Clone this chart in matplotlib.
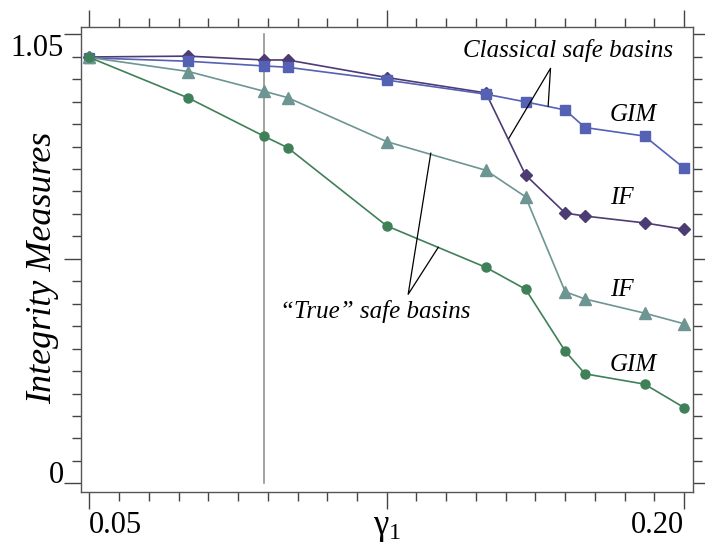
import numpy as np
import matplotlib
matplotlib.use('Agg')
import matplotlib.pyplot as plt
from matplotlib.ticker import FixedLocator

plt.rcParams['font.family'] = ['Liberation Serif', 'DejaVu Serif']
plt.rcParams['mathtext.fontset'] = 'custom'
plt.rcParams['mathtext.rm'] = 'Liberation Serif'
plt.rcParams['mathtext.it'] = 'Liberation Serif:italic'

# данные
gamma = [0.05, 0.075, 0.094, 0.10, 0.125, 0.15, 0.16, 0.17, 0.175, 0.19, 0.20]
gim_true = [0.996, 0.901, 0.812, 0.785, 0.602, 0.505, 0.454, 0.309, 0.256, 0.232, 0.177]
if_true = [0.996, 0.963, 0.917, 0.902, 0.799, 0.732, 0.670, 0.448, 0.431, 0.398, 0.373]
gim_class = [0.995, 0.987, 0.976, 0.973, 0.943, 0.910, 0.892, 0.873, 0.832, 0.812, 0.737]
if_class = [0.997, 0.999, 0.990, 0.990, 0.949, 0.913, 0.721, 0.632, 0.625, 0.609, 0.594]
gamma_line = 0.094

xticks = [0.05, 0.125, 0.20]
xticklabels = ['0.05', r'$\mathrm{\gamma}_1$', '0.20']
yticks = [0.0, 0.525, 1.05]
yticklabels = ['0', '', '1.05']

c_green = '#3f8058'
c_teal = '#6d9592'
c_blue = '#5461b4'
c_purple = '#4d3b73'

fig = plt.figure(figsize=(7.05, 5.47), dpi=100)
ax = fig.add_axes([81/705, 55/547, 611.5/705, 465/547])

ax.plot([gamma_line, gamma_line], [0, 1.05], color='#888888', lw=1.1, zorder=1)

ax.plot(gamma, if_class, color=c_purple, lw=1.2, marker='D', ms=6, zorder=3)
ax.plot(gamma, gim_class, color=c_blue, lw=1.2, marker='s', ms=7, zorder=3)
ax.plot(gamma, if_true, color=c_teal, lw=1.2, marker='^', ms=8, zorder=3)
ax.plot(gamma, gim_true, color=c_green, lw=1.2, marker='o', ms=6.5, zorder=3)

ax.set_xlim(0.0479, 0.2021)
ax.set_ylim(-0.0203, 1.0671)

ax.xaxis.set_major_locator(FixedLocator(xticks))
ax.yaxis.set_major_locator(FixedLocator(yticks))
ax.xaxis.set_minor_locator(FixedLocator(0.05 + 0.0075 * np.arange(21)))
ax.yaxis.set_minor_locator(FixedLocator(0.0525 * np.arange(21)))
ax.set_xticklabels(xticklabels, fontsize=22)
ax.set_yticklabels(yticklabels, fontsize=22)
ax.tick_params(which='both', direction='out', top=True, right=True, color='#444444', width=1)
ax.tick_params(which='major', length=12.5)
ax.tick_params(which='minor', length=6.5)
ax.tick_params(axis='x', pad=1)
ax.tick_params(axis='y', pad=0)
xl = ax.get_xticklabels()
xl[0].set_horizontalalignment('left')
xl[1].set_fontsize(25)
xl[2].set_horizontalalignment('right')
yl = ax.get_yticklabels()
yl[0].set_verticalalignment('baseline')
yl[2].set_verticalalignment('top')
for s in ax.spines.values():
    s.set_color('#555555')
    s.set_linewidth(1)

fig.text(43/705, 1 - 268/547, 'Integrity Measures', rotation=90, fontsize=26,
         style='italic', ha='center', va='center')

# подписи кривых
fs = 18
ax.text(0.1871, 0.861, 'GIM', style='italic', fontsize=fs, ha='center', va='center')
ax.text(0.1842, 0.667, 'IF', style='italic', fontsize=fs, ha='center', va='center')
ax.text(0.1842, 0.452, 'IF', style='italic', fontsize=fs, ha='center', va='center')
ax.text(0.1871, 0.277, 'GIM', style='italic', fontsize=fs, ha='center', va='center')

ax.text(0.1707, 1.013, 'Classical safe basins', style='italic', fontsize=fs,
        ha='center', va='center')
ax.plot([0.1558, 0.1663, 0.1657], [0.807, 0.9705, 0.882], color='black', lw=0.9, zorder=4)

ax.text(0.1222, 0.401, '\u201cTrue\u201d safe basins', style='italic', fontsize=fs,
        ha='center', va='center')
ax.plot([0.1361, 0.1304, 0.1380], [0.772, 0.442, 0.552], color='black', lw=0.9, zorder=4)

fig.savefig('out.png', dpi=100)
